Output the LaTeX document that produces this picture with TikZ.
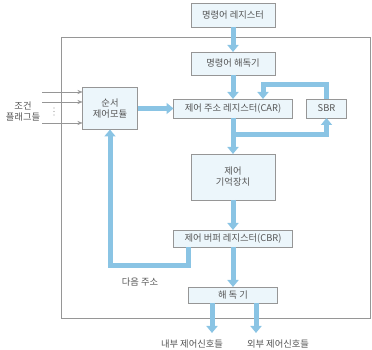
\documentclass[tikz,border=0pt]{standalone}
\usepackage{fontspec}
\setmainfont{Noto Sans CJK KR}
\usetikzlibrary{arrows.meta, positioning}

\definecolor{flowblue}{RGB}{138,196,228}
\definecolor{boxfill}{RGB}{236,246,251}
\definecolor{boxline}{RGB}{150,150,150}
\definecolor{txtgray}{RGB}{85,85,85}

\begin{document}
\begin{tikzpicture}[x=1pt, y=1pt, >=Stealth,
  every node/.style={text=txtgray, font=\fontsize{9.3}{11}\selectfont, inner sep=0pt, outer sep=0pt},
  unit/.style={draw=boxline, fill=boxfill, line width=0.6pt},
  flow/.style={draw=flowblue, line width=5pt, -{Triangle[width=11pt, length=7pt]}},
  feed/.style={draw=boxline, line width=0.5pt, -{Stealth[length=5pt, width=4pt]}}]

  \useasboundingbox (0,0) rectangle (372,350);

  % Frame
  \draw[boxline, line width=0.6pt] (61,32) rectangle (370,313);

  % Nodes
  \node (IR) [unit, minimum width=84pt, minimum height=24pt] at (233,335) {명령어 레지스터};
  \node (ID) [unit, minimum width=84pt, minimum height=23pt, below=25pt of IR] {명령어 해독기};
  \node (CAR) [unit, minimum width=119pt, minimum height=19pt, below=24pt of ID] {제어 주소 레지스터(CAR)};
  \node (SBR) [unit, minimum width=40pt, minimum height=19pt, right=14pt of CAR] {SBR};
  \node (SEQ) [unit, minimum width=55pt, minimum height=42pt, left=36pt of CAR, align=center] {순서\\제어모듈};
  \node (MEM) [unit, minimum width=84pt, minimum height=46pt, below=36pt of CAR, align=center] {제어\\기억장치};
  \node (CBR) [unit, minimum width=119pt, minimum height=17pt, below=30pt of MEM] {제어 버퍼 레지스터(CBR)};
  \node (DEC) [unit, minimum width=89pt, minimum height=16pt, below=40pt of CBR] {해 독 기};

  % Labels
  \node (flags) [align=center] at (23,238) {조건\\플래그들};
  \node (next) at (140,68) {다음 주소};
  \node (intsig) at (192,6) {내부 제어신호들};
  \node (extsig) at (278,6) {외부 제어신호들};
  \foreach \y in {242,238.5,235}
    \fill[boxline] (54,\y) circle (0.6pt);

  \coordinate (f1) at (42,258);
  \coordinate (f2) at (42,248);
  \coordinate (f3) at (42,227);
  \coordinate (intout) at (212,17);
  \coordinate (extout) at (256,17);

  % Edges
  \draw[feed] (f1) -- (f1 -| SEQ.west);
  \draw[feed] (f2) -- (f2 -| SEQ.west);
  \draw[feed] (f3) -- (f3 -| SEQ.west);

  \draw[flow] (IR) -- (ID);
  \draw[flow] (ID) -- (CAR);
  \draw[flow] (SEQ) -- (CAR);
  \draw[flow] (SBR.north) -- ++(0,14) -| ([xshift=30pt]CAR.north);
  \draw[flow] ([yshift=-17pt]CAR.south) -| (SBR.south);
  \draw[flow] (CAR) -- (MEM);
  \draw[flow] (MEM) -- (CBR);
  \draw[flow] (CBR) -- (DEC);
  \draw[flow] ([xshift=-45pt]CBR.south) -- ++(0,-19) -| (SEQ.south);
  \draw[flow] (DEC.south -| intout) -- (intout);
  \draw[flow] (DEC.south -| extout) -- (extout);

\end{tikzpicture}
\end{document}
